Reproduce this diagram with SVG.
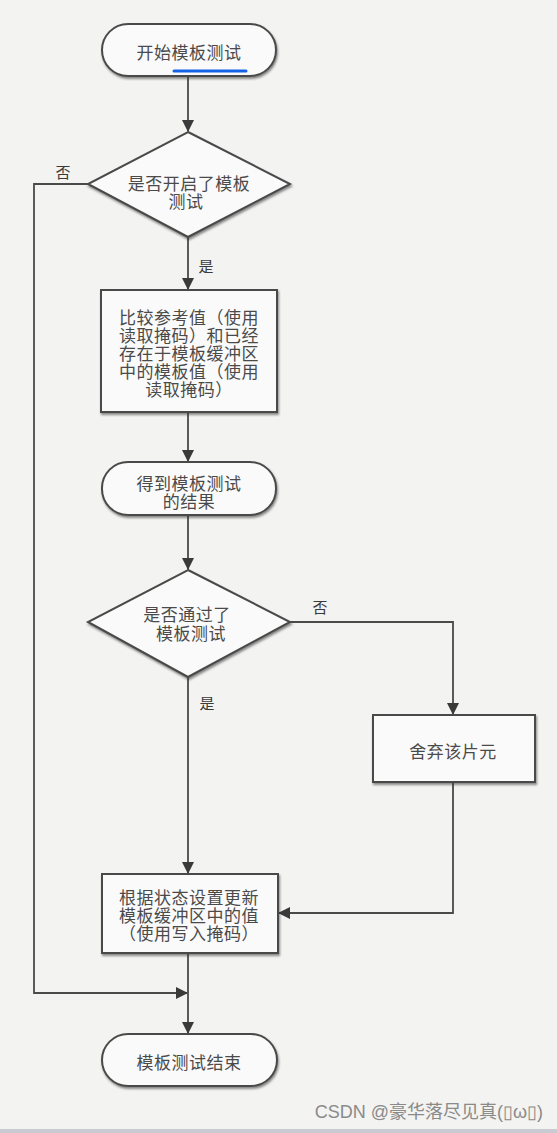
<svg xmlns="http://www.w3.org/2000/svg" width="557" height="1133" viewBox="0 0 557 1133">
<defs>
<marker id="arr" markerWidth="12" markerHeight="16" refX="11" refY="6" orient="auto" markerUnits="userSpaceOnUse" viewBox="0 0 12 12">
<path d="M0,0 L12,6 L0,12 Z" fill="#3a3a3a"/>
</marker>
<filter id="sh" x="-10%" y="-10%" width="120%" height="130%">
<feDropShadow dx="1" dy="2" stdDeviation="1.2" flood-color="#333" flood-opacity="0.55"/>
</filter>
<style>
.shape{fill:#fafafa;stroke:#4a4a4a;stroke-width:2;filter:url(#sh)}
.t{font-family:"Noto Sans CJK SC","Noto Sans",sans-serif;font-size:17px;fill:#4a4a4a;text-anchor:middle;dominant-baseline:central;letter-spacing:0.5px}
.lbl{font-family:"Noto Sans CJK SC","Noto Sans",sans-serif;font-size:15px;fill:#3a3a3a;text-anchor:middle;dominant-baseline:central}
.c{fill:none;stroke:#4a4a4a;stroke-width:1.8}
</style>
</defs>
<rect x="0" y="0" width="557" height="1133" fill="#f3f3f1"/>
<rect x="0" y="1129" width="557" height="4" fill="#c9cad2"/>

<g id="connectors">
<path class="c" d="M188,76 V131" marker-end="url(#arr)"/>
<path class="c" d="M188,237 V289" marker-end="url(#arr)"/>
<path class="c" d="M88,184 H34 V993 H187" marker-end="url(#arr)"/>
<path class="c" d="M188,412 V461" marker-end="url(#arr)"/>
<path class="c" d="M188,515 V569" marker-end="url(#arr)"/>
<path class="c" d="M188,677 V873" marker-end="url(#arr)"/>
<path class="c" d="M290,622 H453 V714" marker-end="url(#arr)"/>
<path class="c" d="M453,782 V913 H279" marker-end="url(#arr)"/>
<path class="c" d="M188,953 V1033" marker-end="url(#arr)"/>
<text class="lbl" x="63" y="171">否</text>
<text class="lbl" x="206" y="265">是</text>
<text class="lbl" x="320" y="606">否</text>
<text class="lbl" x="207" y="702">是</text>
</g>

<g id="start">
<rect class="shape" x="102" y="24" width="174" height="52" rx="26"/>
<text class="t" x="189" y="51">开始模板测试</text>
<line x1="174" y1="71" x2="246" y2="71" stroke="#1463e6" stroke-width="3" stroke-linecap="round"/>
</g>

<g id="d1">
<polygon class="shape" points="188,132 290,184 188,237 88,184"/>
<text class="t"><tspan x="189" y="182">是否开启了模板</tspan><tspan x="186" y="200">测试</tspan></text>
</g>

<g id="compare">
<rect class="shape" x="101" y="290" width="176" height="122"/>
<text class="t"><tspan x="189" y="316">比较参考值（使用</tspan><tspan x="189" y="334">读取掩码）和已经</tspan><tspan x="189" y="352">存在于模板缓冲区</tspan><tspan x="189" y="370">中的模板值（使用</tspan><tspan x="189" y="388">读取掩码）</tspan></text>
</g>

<g id="result">
<rect class="shape" x="102" y="462" width="174" height="53" rx="26"/>
<text class="t"><tspan x="189" y="482">得到模板测试</tspan><tspan x="189" y="500">的结果</tspan></text>
</g>

<g id="d2">
<polygon class="shape" points="188,570 290,622 188,677 88,622"/>
<text class="t"><tspan x="187" y="613">是否通过了</tspan><tspan x="191" y="632">模板测试</tspan></text>
</g>

<g id="discard">
<rect class="shape" x="373" y="715" width="162" height="67"/>
<text class="t" x="453" y="750">舍弃该片元</text>
</g>

<g id="update">
<rect class="shape" x="102" y="874" width="176" height="79"/>
<text class="t"><tspan x="189" y="896">根据状态设置更新</tspan><tspan x="189" y="914">模板缓冲区中的值</tspan><tspan x="189" y="932">（使用写入掩码）</tspan></text>
</g>

<g id="end">
<rect class="shape" x="102" y="1034" width="175" height="52" rx="26"/>
<text class="t" x="189" y="1061">模板测试结束</text>
</g>

<text x="543" y="1112" font-family="'Liberation Sans','Noto Sans CJK SC',sans-serif" font-size="18" fill="#8a8a8a" text-anchor="end" dominant-baseline="central">CSDN @豪华落尽见真(▯ω▯)</text>
</svg>
